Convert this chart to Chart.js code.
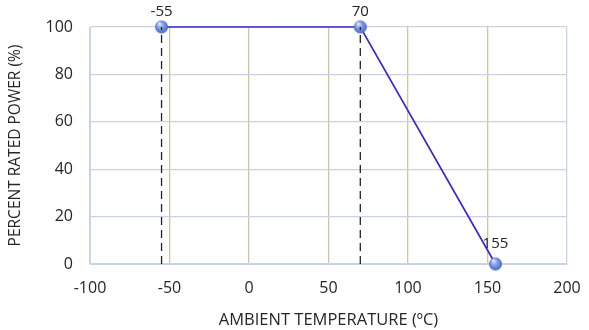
<!DOCTYPE html>
<html>
<head>
<meta charset="utf-8">
<script src="https://cdn.jsdelivr.net/npm/chart.js@4/dist/chart.umd.min.js"></script>
<style>
    html, body { margin: 0; padding: 0; background: #fff; }
    #wrap { width: 589px; height: 330px; }
</style>
</head>
<body>
<div id="wrap"><canvas id="derating"></canvas></div>
<script>
const temps = [-55, 70, 155];
const power = [100, 100, 0];
const pointLabels = ["-55", "70", "155"];
const dashTemps = [-55, 70];

const FONT = "'Open Sans', 'Liberation Sans', sans-serif";

// shaded ball used for the markers
function makeBall(r) {
    const c = document.createElement("canvas");
    c.width = r * 2 + 2;
    c.height = r * 2 + 2;
    const g = c.getContext("2d");
    const grad = g.createRadialGradient(r * 0.8, r * 0.6, 0.5, r + 1, r + 1, r);
    grad.addColorStop(0, "#e6ecfb");
    grad.addColorStop(0.4, "#8ea6ea");
    grad.addColorStop(1, "#4566c6");
    g.fillStyle = grad;
    g.beginPath();
    g.arc(r + 1, r + 1, r, 0, Math.PI * 2);
    g.fill();
    return c;
}
const ball = makeBall(6.5);

const curve = temps.map((t, i) => ({ x: t, y: power[i] }));
const dashSets = dashTemps.map((t) => ({
    data: [{ x: t, y: 0 }, { x: t, y: 100 }],
    borderColor: "#222222",
    borderWidth: 1.3,
    borderDash: [8, 5],
    pointRadius: 0,
    showLine: true,
    clip: false,
}));

const labelPlugin = {
    id: "pointLabels",
    afterDatasetsDraw(chart) {
        const meta = chart.getDatasetMeta(dashSets.length);
        const ctx = chart.ctx;
        ctx.save();
        ctx.font = "15px " + FONT;
        ctx.fillStyle = "#222";
        ctx.textAlign = "center";
        ctx.textBaseline = "bottom";
        meta.data.forEach((pt, i) => {
            const dy = i === 2 ? 13 : 8;
            ctx.fillText(pointLabels[i], pt.x, pt.y - dy);
        });
        ctx.restore();
    },
};

const tan = "#cfc4a0";
const blue = "#c9d3e8";

const config = {
    type: "scatter",
    data: {
        datasets: [
            ...dashSets,
            {
                data: curve,
                borderColor: "#3a2acc",
                borderWidth: 1.7,
                showLine: true,
                pointStyle: ball,
                pointRadius: 6.5,
                clip: false,
            },
        ],
    },
    options: {
        responsive: true,
        maintainAspectRatio: false,
        animation: false,
        layout: { padding: { left: 0, right: 22, top: 27, bottom: 0 } },
        plugins: {
            legend: { display: false },
            tooltip: { enabled: false },
        },
        scales: {
            x: {
                type: "linear",
                min: -100,
                max: 200,
                ticks: {
                    stepSize: 50,
                    color: "#262626",
                    font: { family: FONT, size: 16 },
                    padding: 15,
                },
                grid: {
                    color: (c) => (c.tick && (c.tick.value === -100 || c.tick.value === 200) ? blue : tan),
                    lineWidth: 1.3,
                    drawTicks: false,
                },
                border: { color: blue },
                title: {
                    display: true,
                    text: "AMBIENT TEMPERATURE (ºC)",
                    color: "#262626",
                    font: { family: FONT, size: 16.5 },
                    padding: { top: 1, bottom: 0 },
                },
                afterFit: (axis) => {
                    axis.height = 66;
                    axis.paddingRight = 0;
                    axis.paddingLeft = 0;
                },
            },
            y: {
                min: 0,
                max: 100,
                ticks: {
                    stepSize: 20,
                    color: "#262626",
                    font: { family: FONT, size: 16 },
                    padding: 17,
                },
                grid: { color: blue, lineWidth: 1.3, drawTicks: false },
                border: { color: blue },
                title: {
                    display: true,
                    text: "PERCENT RATED POWER (%)",
                    color: "#262626",
                    font: { family: FONT, size: 15.5 },
                    padding: { top: 6, bottom: 4 },
                },
                afterFit: (axis) => {
                    axis.width = 90;
                    axis.paddingTop = 0;
                    axis.paddingBottom = 0;
                },
            },
        },
    },
    plugins: [labelPlugin],
};

const derating = new Chart(document.getElementById("derating"), config);
</script>
</body>
</html>
